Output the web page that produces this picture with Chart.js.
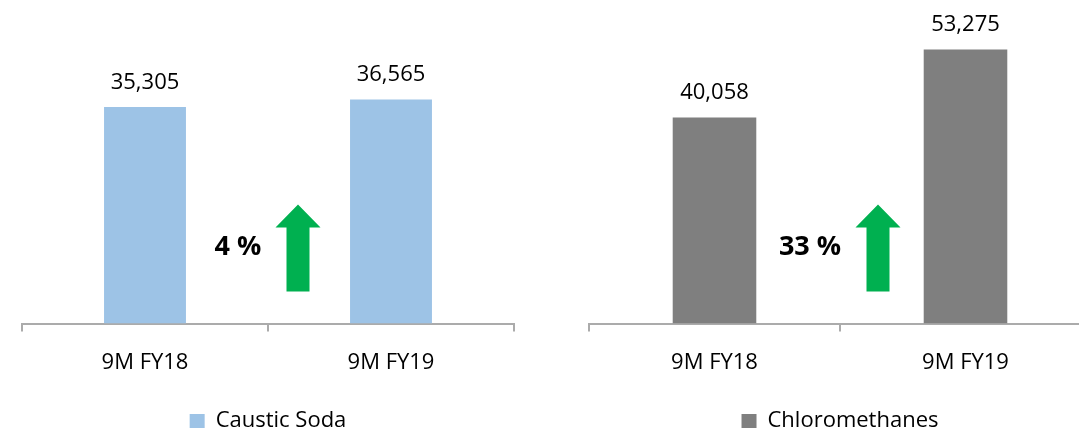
<!DOCTYPE html>
<html>
<head>
<meta charset="utf-8">
<script src="https://cdn.jsdelivr.net/npm/chart.js@4.4.1/dist/chart.umd.min.js"></script>
<style>
  html, body { margin: 0; padding: 0; background: #fff; overflow: hidden; }
  body { width: 1079px; height: 433px; position: relative; }
  .box { position: absolute; top: 0; height: 433px; }
  #leftBox { left: 0; width: 540px; }
  #rightBox { left: 540px; width: 560px; }
</style>
</head>
<body>
<div class="box" id="leftBox"><canvas id="leftChart"></canvas></div>
<div class="box" id="rightBox"><canvas id="rightChart"></canvas></div>
<script>
const periods = ["9M FY18", "9M FY19"];
const causticSoda = [35305, 36565];
const chloromethanes = [40058, 53275];
const growthLabels = ["4 %", "33 %"];

Chart.defaults.font.family = "'Open Sans', sans-serif";
Chart.defaults.color = "#000";

// value labels above bars + the growth text and green arrow
const decoPlugin = {
  id: "deco",
  afterDatasetsDraw(chart, args, opts) {
    const ctx = chart.ctx;
    const meta = chart.getDatasetMeta(0);
    const xs = chart.scales.x;
    const bottom = chart.chartArea.bottom;

    ctx.save();
    ctx.fillStyle = "#000";
    ctx.font = "22px 'Open Sans', sans-serif";
    ctx.textAlign = "center";
    ctx.textBaseline = "alphabetic";
    meta.data.forEach((bar, i) => {
      const v = chart.data.datasets[0].data[i];
      ctx.fillText(v.toLocaleString("en-US"), bar.x, bar.y - 18.5);
    });

    const mid = (xs.getPixelForValue(0) + xs.getPixelForValue(1)) / 2;

    ctx.font = "bold 27px 'Open Sans', sans-serif";
    ctx.textBaseline = "middle";
    ctx.fillText(opts.text, mid - 30, bottom - 76);

    const cx = mid + opts.arrowOffset;
    ctx.fillStyle = "#00B050";
    ctx.beginPath();
    ctx.moveTo(cx, bottom - 119);
    ctx.lineTo(cx + 22.5, bottom - 96);
    ctx.lineTo(cx + 11.5, bottom - 96);
    ctx.lineTo(cx + 11.5, bottom - 32);
    ctx.lineTo(cx - 11.5, bottom - 32);
    ctx.lineTo(cx - 11.5, bottom - 96);
    ctx.lineTo(cx - 22.5, bottom - 96);
    ctx.closePath();
    ctx.fill();
    ctx.restore();
  }
};

function makeChart(id, label, values, color, yMax, pad, text, arrowOffset) {
  return new Chart(document.getElementById(id), {
    type: "bar",
    data: {
      labels: periods,
      datasets: [{
        label: label,
        data: values,
        backgroundColor: color,
        borderWidth: 0,
        categoryPercentage: 1,
        barPercentage: 0.333
      }]
    },
    options: {
      responsive: true,
      maintainAspectRatio: false,
      animation: false,
      layout: { padding: pad },
      scales: {
        y: { display: false, min: 0, max: yMax },
        x: {
          grid: {
            drawOnChartArea: false,
            drawTicks: true,
            tickLength: 8,
            color: "#ABABAB",
            lineWidth: 2
          },
          border: { display: true, color: "#ABABAB", width: 2 },
          ticks: { font: { size: 22 }, color: "#000", padding: 18 },
          afterFit(scale) { scale.height += 13; }
        }
      },
      plugins: {
        legend: {
          position: "bottom",
          labels: {
            boxWidth: 15,
            boxHeight: 14,
            font: { size: 22 },
            color: "#000",
            padding: 3
          }
        },
        tooltip: { enabled: false },
        deco: { text: text, arrowOffset: arrowOffset }
      }
    },
    plugins: [decoPlugin]
  });
}

makeChart("leftChart", "Caustic Soda", causticSoda, "#9DC3E6", 50000,
  { left: 22, right: 26, top: 17, bottom: -9 }, growthLabels[0], 30);
makeChart("rightChart", "Chloromethanes", chloromethanes, "#7F7F7F", 60000,
  { left: 49, right: 9, top: 15, bottom: -9 }, growthLabels[1], 38);
</script>
</body>
</html>
